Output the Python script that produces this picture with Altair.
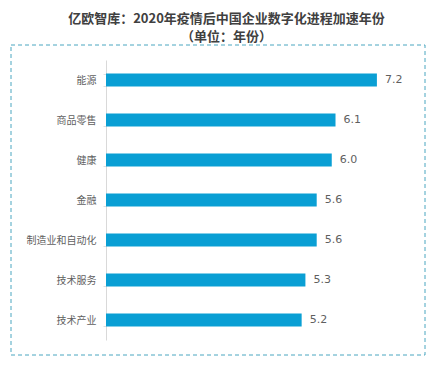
import altair as alt
import pandas as pd

categories = ["能源", "商品零售", "健康", "金融", "制造业和自动化", "技术服务", "技术产业"]
values = [7.2, 6.1, 6.0, 5.6, 5.6, 5.3, 5.2]

df = pd.DataFrame({"cat": categories, "val": values})

W, H = 301, 280

y_enc = alt.Y("cat:N", sort=categories, title=None,
              scale=alt.Scale(paddingInner=0.68, paddingOuter=0.34),
              axis=alt.Axis(labelFontSize=10, labelColor="#5f5f5f", labelFont="Noto Sans CJK SC",
                            domainColor="#d9d9d9", tickColor="#e0e0e0", tickSize=3,
                            tickBand="extent", labelPadding=7, grid=False))
x_enc = alt.X("val:Q", scale=alt.Scale(domain=[0, 8], nice=False), axis=None)

bars = alt.Chart(df).mark_bar(color="#0a9fd4").encode(x=x_enc, y=y_enc)
labels = alt.Chart(df).mark_text(align="left", dx=8, fontSize=11, color="#5f5f5f",
                                 font="Verdana, DejaVu Sans").encode(
    x=x_enc, y=alt.Y("cat:N", sort=categories), text=alt.Text("val:Q", format=".1f"))

border = alt.Chart(pd.DataFrame({"a": [0]})).mark_rect(
    fill=None, stroke="#4aa6c0", strokeWidth=1, strokeDash=[4, 3]
).encode(x=alt.value(-95), x2=alt.value(319), y=alt.value(-15), y2=alt.value(295))

chart = alt.layer(border, bars, labels).properties(
    width=W, height=H,
    title=alt.TitleParams(["亿欧智库：2020年疫情后中国企业数字化进程加速年份", "（单位：年份）"],
                          fontSize=13, fontWeight="bold", color="#404040",
                          font="Noto Sans CJK SC", anchor="middle", dx=-30, offset=1,
                          lineHeight=18),
    autosize=alt.AutoSizeParams(type="none"),
    padding={"left": 98, "top": 52, "right": 22, "bottom": 20},
).configure_view(stroke=None)

chart.save("out.html", embed_options={"renderer": "svg", "actions": False})
